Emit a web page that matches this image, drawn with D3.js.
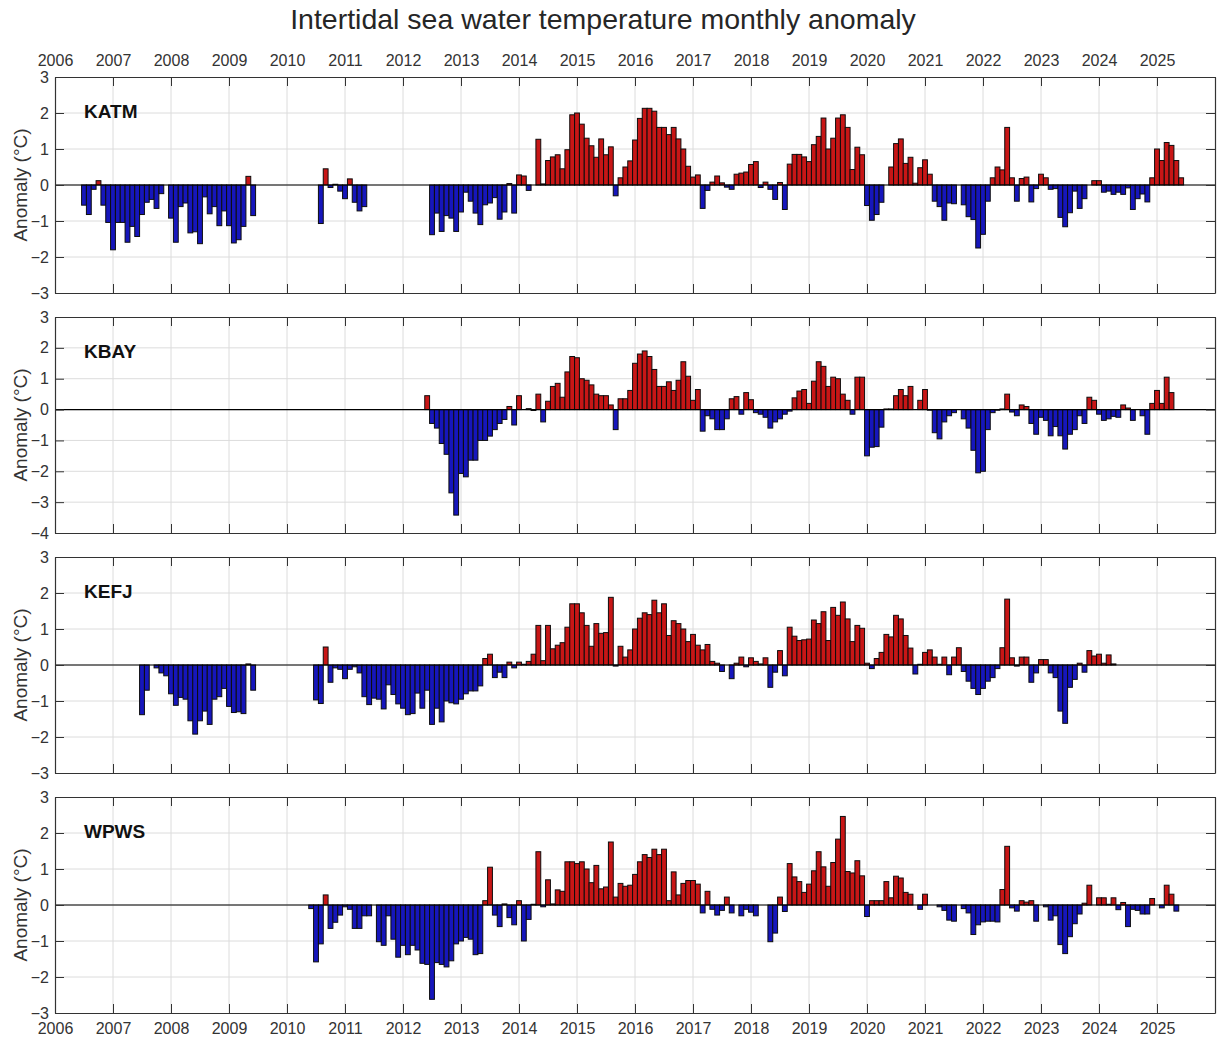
<!DOCTYPE html>
<html>
<head>
<meta charset="utf-8">
<script src="https://cdn.jsdelivr.net/npm/d3@7/dist/d3.min.js"></script>
<style>
body { margin: 0; background: #fff; }
text { font-family: "Liberation Sans", Arial, sans-serif; }
</style>
</head>
<body>
<svg id="chart"></svg>
<script>
var stations = ["KATM", "KBAY", "KEFJ", "WPWS"];
// year and month (1-12) of the first value of each series
var startYears = [2006, 2012, 2007, 2010];
var startMonths = [7, 6, 7, 6];
var yMins = [-3, -4, -3, -3];
var yMax = 3;
var yearLabels = d3.range(2006, 2026);

// monthly anomaly (degC), null = no data
var katm = [
  -0.56, -0.82, -0.12, 0.12, -0.56, -1.04,                                              // 2006 Jul-Dec
  -1.80, -1.04, -1.04, -1.59, -1.15, -1.43, -0.82, -0.48, -0.40, -0.65, -0.24, null,    // 2007
  -0.92, -1.59, -0.60, -0.50, -1.33, -1.30, -1.63, -0.33, -0.80, -0.60, -1.13, -0.72,   // 2008
  -1.13, -1.61, -1.52, -1.15, 0.24, -0.85, null, null, null, null, null, null,          // 2009
  null, null, null, null, null, null, null, -1.07, 0.45, -0.07, 0.02, -0.17,            // 2010
  -0.38, 0.17, -0.48, -0.72, -0.60, null, null, null, null, null, null, null,           // 2011
  null, null, null, null, null, null, -1.38, -0.78, -1.29, -0.85, -0.92, -1.29,         // 2012
  -0.75, -0.20, -0.45, -0.78, -1.10, -0.55, -0.50, -0.35, -0.95, -0.75, 0.04, -0.78,    // 2013
  0.28, 0.25, -0.15, null, 1.27, 0.03, 0.68, 0.78, 0.84, 0.45, 0.98, 1.95,              // 2014
  2.00, 1.69, 1.30, 1.09, 0.77, 1.28, 0.84, 1.06, -0.30, 0.20, 0.50, 0.67,              // 2015
  1.25, 1.85, 2.13, 2.13, 2.05, 1.60, 1.60, 1.40, 1.60, 1.28, 1.00, 0.52,               // 2016
  0.22, 0.28, -0.65, -0.15, 0.08, 0.25, 0.06, -0.06, -0.12, 0.30, 0.33, 0.36,           // 2017
  0.57, 0.65, -0.07, 0.08, -0.12, -0.40, 0.07, -0.68, 0.58, 0.85, 0.85, 0.78,           // 2018
  0.65, 1.12, 1.35, 1.86, 1.00, 1.30, 1.86, 1.95, 1.60, 0.43, 1.05, 0.84,               // 2019
  -0.57, -0.98, -0.82, -0.48, null, 0.50, 1.15, 1.28, 0.60, 0.77, 0.05, 0.48,           // 2020
  0.70, 0.30, -0.45, -0.60, -0.98, -0.50, -0.52, null, -0.55, -0.88, -0.96, -1.75,      // 2021
  -1.37, -0.45, 0.20, 0.50, 0.42, 1.60, 0.20, -0.45, 0.18, 0.22, -0.47, -0.10,          // 2022
  0.30, 0.20, -0.12, -0.10, -0.90, -1.16, -0.77, -0.17, -0.65, -0.38, null, 0.12,       // 2023
  0.12, -0.20, -0.17, -0.26, -0.20, -0.26, -0.08, -0.68, -0.38, -0.25, -0.47, 0.20,     // 2024
  1.00, 0.68, 1.18, 1.10, 0.68, 0.20                                                    // 2025
];

var kbay = [
  0.45, -0.45, -0.60, -1.10, -1.45, -2.70, -3.42,                                       // 2012 Jun-Dec
  -2.07, -2.18, -1.64, -1.64, -1.00, -1.00, -0.86, -0.65, -0.45, -0.32, 0.10, -0.50,    // 2013
  0.45, null, 0.03, -0.03, 0.50, -0.40, 0.27, 0.75, 0.85, 0.40, 1.22, 1.72,             // 2014
  1.68, 1.00, 0.95, 0.80, 0.50, 0.45, 0.45, 0.15, -0.65, 0.35, 0.35, 0.62,              // 2015
  1.50, 1.80, 1.90, 1.72, 1.30, 0.75, 0.75, 0.90, 0.62, 0.95, 1.55, 1.08,               // 2016
  0.30, 0.65, -0.70, -0.20, -0.30, -0.65, -0.65, -0.30, 0.35, 0.42, -0.15, 0.55,        // 2017
  0.32, -0.10, -0.15, -0.25, -0.60, -0.40, -0.30, -0.15, -0.05, 0.38, 0.60, 0.65,       // 2018
  0.20, 0.92, 1.55, 1.40, 0.75, 1.05, 1.00, 0.50, 0.30, -0.15, 1.05, 1.05,              // 2019
  -1.50, -1.22, -1.20, -0.57, 0.02, 0.02, 0.45, 0.65, 0.45, 0.75, null, 0.30,           // 2020
  0.65, -0.02, -0.75, -0.95, -0.40, -0.20, -0.10, null, -0.30, -0.60, -1.32, -2.05,     // 2021
  -2.00, -0.65, -0.10, -0.02, 0.02, 0.50, -0.08, -0.20, 0.15, 0.10, -0.45, -0.80,       // 2022
  -0.25, -0.35, -0.85, -0.55, -0.85, -1.28, -0.80, -0.65, -0.20, -0.45, 0.40, 0.30,     // 2023
  -0.15, -0.35, -0.30, -0.22, -0.25, 0.15, 0.05, -0.35, null, -0.20, -0.80, 0.20,       // 2024
  0.62, 0.20, 1.05, 0.55                                                                // 2025
];

var kefj = [
  -1.38, -0.70, null, -0.08, -0.22, -0.30,                                              // 2007 Jul-Dec
  -0.80, -1.12, -0.90, -0.95, -1.55, -1.92, -1.55, -1.28, -1.65, -0.95, -0.88, -0.65,   // 2008
  -1.15, -1.32, -1.30, -1.35, 0.03, -0.70, null, null, null, null, null, null,          // 2009
  null, null, null, null, null, null, -0.97, -1.07, 0.50, -0.48, -0.08, -0.12,          // 2010
  -0.38, -0.12, -0.05, -0.22, -0.88, -1.10, -0.92, -0.95, -1.22, -0.55, -0.82, -1.08,   // 2011
  -1.20, -1.38, -1.35, -0.78, -1.20, -0.70, -1.65, -1.20, -1.58, -1.00, -1.05, -1.08,   // 2012
  -0.95, -0.80, -0.72, -0.72, -0.58, 0.18, 0.30, -0.35, -0.20, -0.35, 0.08, -0.08,      // 2013
  0.08, 0.02, 0.10, 0.30, 1.10, 0.12, 1.10, 0.45, 0.55, 0.62, 1.05, 1.70,               // 2014
  1.70, 1.45, 1.10, 0.52, 1.15, 0.88, 0.90, 1.88, -0.03, 0.52, 0.22, 0.42,              // 2015
  1.00, 1.30, 1.45, 1.40, 1.80, 1.45, 1.70, 0.82, 1.23, 1.15, 1.00, 0.65,               // 2016
  0.85, 0.55, 0.42, 0.57, 0.10, 0.05, -0.18, 0.00, -0.38, 0.05, 0.22, -0.05,            // 2017
  0.20, 0.10, 0.03, 0.20, -0.62, -0.20, 0.40, -0.30, 1.05, 0.80, 0.68, 0.70,            // 2018
  0.72, 1.25, 1.15, 1.48, 0.68, 1.60, 1.38, 1.75, 1.28, 0.65, 1.10, 1.02,               // 2019
  0.05, -0.10, 0.18, 0.35, 0.85, 0.78, 1.38, 1.28, 0.82, 0.47, -0.25, 0.02,             // 2020
  0.35, 0.42, 0.22, 0.02, 0.22, -0.27, 0.22, 0.48, -0.18, -0.45, -0.65, -0.82,          // 2021
  -0.65, -0.45, -0.35, -0.10, 0.48, 1.83, 0.20, -0.03, 0.22, 0.22, -0.48, -0.22,        // 2022
  0.15, 0.15, -0.22, -0.35, -1.28, -1.62, -0.62, -0.40, 0.05, -0.20, 0.40, 0.25,        // 2023
  0.30, 0.05, 0.28, 0.03                                                                // 2024
];

var wpws = [
  -0.10, -1.58, -1.08, 0.28, -0.65, -0.48, -0.28,                                       // 2010 Jun-Dec
  -0.05, -0.12, -0.65, -0.65, -0.30, -0.30, null, -1.02, -1.12, -0.30, -0.95, -1.45,    // 2011
  -1.12, -1.38, -1.12, -1.25, -1.62, -1.65, -2.62, -1.60, -1.65, -1.72, -1.55, -1.08,   // 2012
  -1.00, -0.90, -0.95, -1.38, -1.35, 0.12, 1.05, -0.28, -0.60, 0.03, -0.35, -0.55,      // 2013
  0.12, -1.00, -0.40, 0.02, 1.48, -0.05, 0.70, 0.03, 0.42, 0.38, 1.20, 1.20,            // 2014
  1.15, 1.20, 1.00, 0.62, 1.10, 0.45, 0.50, 1.75, 0.22, 0.60, 0.52, 0.55,               // 2015
  0.85, 1.20, 1.40, 1.32, 1.55, 1.40, 1.55, 0.12, 0.92, 0.28, 0.60, 0.68,               // 2016
  0.68, 0.58, -0.22, 0.38, -0.12, -0.28, -0.15, 0.22, -0.22, null, -0.30, -0.12,        // 2017
  -0.20, -0.30, null, 0.00, -1.02, -0.78, 0.22, -0.18, 1.15, 0.78, 0.65, 0.35,          // 2018
  0.58, 0.95, 1.48, 1.06, 0.52, 1.18, 1.83, 2.46, 0.93, 0.89, 1.23, 0.81,               // 2019
  -0.32, 0.12, 0.12, 0.12, 0.65, 0.20, 0.80, 0.75, 0.35, 0.30, null, -0.12,             // 2020
  0.30, null, null, -0.05, -0.15, -0.42, -0.45, null, -0.10, -0.22, -0.82, -0.55,       // 2021
  -0.47, -0.45, -0.45, -0.47, 0.43, 1.63, -0.08, -0.17, 0.12, 0.08, 0.12, -0.45,        // 2022
  null, -0.05, -0.42, -0.30, -1.10, -1.35, -0.88, -0.52, -0.25, 0.05, 0.55, null,       // 2023
  0.20, 0.20, 0.02, 0.20, -0.13, 0.07, -0.60, -0.12, -0.15, -0.25, -0.25, 0.18,         // 2024
  null, -0.08, 0.55, 0.30, -0.17                                                        // 2025
];

var series = [katm, kbay, kefj, wpws];

var colors = {
	red: "#c81616",
	blue: "#1616bc",
	edge: "#0d0d0d",
	axis: "#333",
	grid: "#dcdcdc"
};

// SETUP
var width = 1217, height = 1041;
var left = 55, right = 1215;
var panel_tops = [77, 317, 557, 797];
var panel_h = 216;
var tick_len = 9;

var svg = d3.select("#chart")
	.attr("width", width)
	.attr("height", height);

svg.append("rect")
	.attr("width", width)
	.attr("height", height)
	.attr("fill", "#fff");

var x = d3.scaleLinear()
	.domain([2006, 2026])
	.range([left, right]);

var month_w = x(2006 + 1 / 12) - x(2006);

svg.append("text")
	.attr("x", 603)
	.attr("y", 29)
	.attr("text-anchor", "middle")
	.attr("font-size", 28.5)
	.attr("fill", "#262626")
	.text("Intertidal sea water temperature monthly anomaly");

series.forEach(function(vals, i){

	var top = panel_tops[i];
	var bottom = top + panel_h;

	var y = d3.scaleLinear()
		.domain([yMins[i], yMax])
		.range([bottom, top]);

	var g = svg.append("g").attr("class", "panel panel-" + i);

	// grid
	g.selectAll(".vgrid")
		.data(d3.range(2007, 2026))
		.enter().append("line")
			.attr("class", "vgrid")
			.attr("x1", function(d){ return x(d); })
			.attr("x2", function(d){ return x(d); })
			.attr("y1", top)
			.attr("y2", bottom)
			.style("stroke", colors.grid);

	g.selectAll(".hgrid")
		.data(d3.range(yMins[i] + 1, yMax))
		.enter().append("line")
			.attr("class", "hgrid")
			.attr("x1", left)
			.attr("x2", right)
			.attr("y1", function(d){ return y(d); })
			.attr("y2", function(d){ return y(d); })
			.style("stroke", colors.grid);

	// bars
	var data = vals.map(function(v, k){
		return {t: startYears[i] + (startMonths[i] - 1 + k) / 12, v: v};
	}).filter(function(d){ return d.v !== null; });

	g.selectAll(".bar")
		.data(data)
		.enter().append("rect")
			.attr("class", "bar")
			.attr("x", function(d){ return x(d.t) - month_w / 2; })
			.attr("width", month_w)
			.attr("y", function(d){ return y(Math.max(0, d.v)); })
			.attr("height", function(d){ return Math.abs(y(d.v) - y(0)); })
			.style("fill", function(d){ return d.v >= 0 ? colors.red : colors.blue; })
			.style("stroke", colors.edge)
			.style("stroke-width", 1);

	// zero line
	g.append("line")
		.attr("x1", left)
		.attr("x2", right)
		.attr("y1", y(0))
		.attr("y2", y(0))
		.style("stroke", "#000")
		.style("stroke-width", 1.2);

	// axes, ticks pointing inward on all four sides
	var ax_top = d3.axisTop(x)
		.tickValues(d3.range(2006, 2027))
		.tickSizeInner(-tick_len)
		.tickSizeOuter(0)
		.tickPadding(11)
		.tickFormat(function(d){ return (i == 0 && d < 2026) ? d : ""; });

	var ax_bottom = d3.axisBottom(x)
		.tickValues(d3.range(2006, 2027))
		.tickSizeInner(-tick_len)
		.tickSizeOuter(0)
		.tickPadding(10)
		.tickFormat(function(d){ return (i == 3 && d < 2026) ? d : ""; });

	var ax_left = d3.axisLeft(y)
		.tickValues(d3.range(yMins[i], yMax + 1))
		.tickSizeInner(-tick_len)
		.tickSizeOuter(0)
		.tickPadding(6)
		.tickFormat(d3.format("d"));

	var ax_right = d3.axisRight(y)
		.tickValues(d3.range(yMins[i], yMax + 1))
		.tickSizeInner(-tick_len)
		.tickSizeOuter(0)
		.tickFormat("");

	[
		[ax_top, "translate(0," + top + ")"],
		[ax_bottom, "translate(0," + bottom + ")"],
		[ax_left, "translate(" + left + ",0)"],
		[ax_right, "translate(" + right + ",0)"]
	].forEach(function(a){
		var ag = g.append("g")
			.attr("transform", a[1])
			.call(a[0]);
		ag.attr("font-size", 16)
			.attr("font-family", "'Liberation Sans', Arial, sans-serif")
			.style("color", colors.axis);
		ag.selectAll("line").style("stroke-width", 1);
		ag.select(".domain").style("stroke-width", 1.2);
	});

	// station name
	g.append("text")
		.attr("x", 84)
		.attr("y", top + 41)
		.attr("font-size", 19)
		.attr("font-weight", "bold")
		.attr("fill", "#111")
		.text(stations[i]);

	// y label
	g.append("text")
		.attr("transform", "translate(27," + (top + panel_h / 2) + ") rotate(-90)")
		.attr("text-anchor", "middle")
		.attr("font-size", 19)
		.attr("fill", colors.axis)
		.text("Anomaly (\u00b0C)");
});
</script>
</body>
</html>
